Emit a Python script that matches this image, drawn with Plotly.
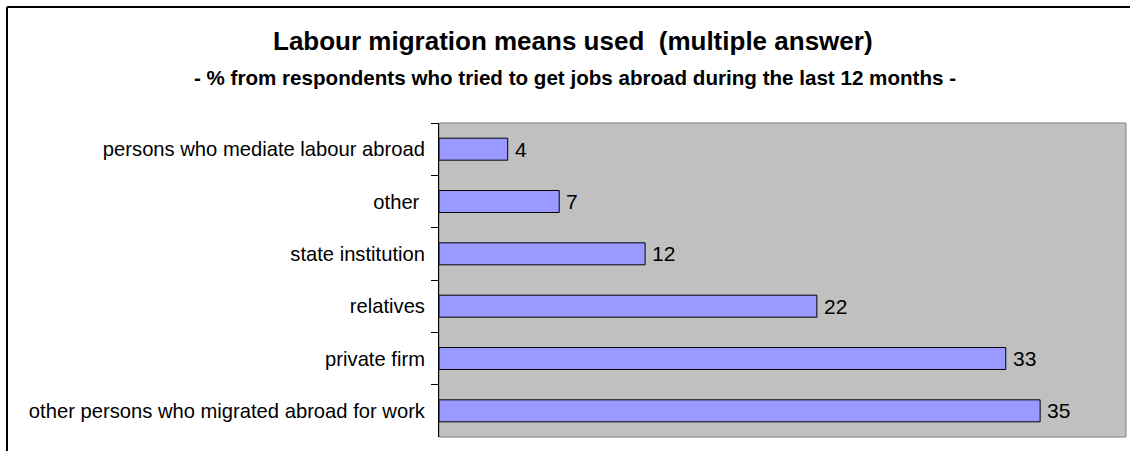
import plotly.graph_objects as go

# Survey categories (top to bottom) and share of respondents, %
categories = [
    "persons who mediate labour abroad",
    "other\u00a0",
    "state institution",
    "relatives",
    "private firm",
    "other persons who migrated abroad for work",
]
values = [4, 7, 12, 22, 33, 35]

title_text = "Labour migration means used  (multiple answer)"
subtitle_text = "- % from respondents who tried to get jobs abroad during the last 12 months -"

W, H = 1130, 451
ML, MR, MT, MB = 439, 4, 123, 14
PW, PH = W - ML - MR, H - MT - MB
FONT = "Liberation Sans, Arial, sans-serif"


def px_x(x):
    return (x - ML) / PW


def px_y(y):
    return (H - MB - y) / PH


fig = go.Figure(
    go.Bar(
        x=values,
        y=categories,
        orientation="h",
        marker=dict(color="#9999FF", line=dict(color="#000000", width=1)),
        width=0.42,
        hoverinfo="skip",
    )
)

# value labels to the right of each bar
annotations = [
    dict(
        x=v, y=c, xref="x", yref="y", text=str(v), showarrow=False,
        xanchor="left", yanchor="middle", xshift=5,
        font=dict(family=FONT, size=21, color="#000000"),
    )
    for c, v in zip(categories, values)
]

annotations += [
    dict(
        x=px_x(573), y=px_y(41), xref="paper", yref="paper", text=f"<b>{title_text}</b>",
        showarrow=False, xanchor="center", yanchor="middle",
        font=dict(family=FONT, size=26, color="#000000"),
    ),
    dict(
        x=px_x(575), y=px_y(77), xref="paper", yref="paper", text=f"<b>{subtitle_text}</b>",
        showarrow=False, xanchor="center", yanchor="middle",
        font=dict(family=FONT, size=20.6, color="#000000"),
    ),
]

shapes = [
    # grey frame around the plotting area
    dict(type="rect", xref="paper", yref="paper", x0=0, x1=1, y0=0, y1=1,
         line=dict(color="#808080", width=1), fillcolor="rgba(0,0,0,0)", layer="below"),
    # outer chart border (left and top edges)
    dict(type="line", xref="paper", yref="paper",
         x0=px_x(7), x1=px_x(7), y0=px_y(7), y1=px_y(470),
         line=dict(color="#000000", width=2)),
    dict(type="line", xref="paper", yref="paper",
         x0=px_x(7), x1=px_x(1145), y0=px_y(7), y1=px_y(7),
         line=dict(color="#000000", width=2)),
]

fig.update_layout(
    width=W,
    height=H,
    margin=dict(l=ML, r=MR, t=MT, b=MB, pad=0),
    paper_bgcolor="#FFFFFF",
    plot_bgcolor="#C0C0C0",
    showlegend=False,
    annotations=annotations,
    shapes=shapes,
    bargap=0.58,
    xaxis=dict(
        range=[0, 40], showgrid=False, zeroline=False, showticklabels=False,
        ticks="", showline=False, fixedrange=True,
    ),
    yaxis=dict(
        type="category", autorange="reversed", showgrid=False, zeroline=False,
        showline=True, linecolor="#000000", linewidth=1,
        ticks="outside", ticklen=7, tickcolor="#000000", tickwidth=1,
        tickson="boundaries", ticklabelstandoff=9,
        tickfont=dict(family=FONT, size=20.2, color="#000000"),
        fixedrange=True,
    ),
)

fig.write_html("out.html")
